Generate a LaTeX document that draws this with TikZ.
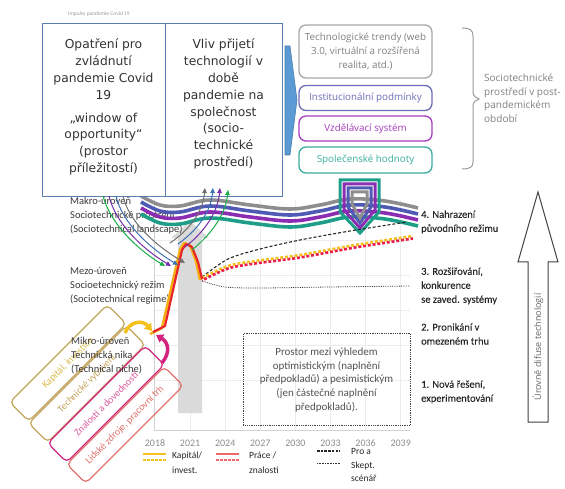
\documentclass[tikz,border=0pt]{standalone}
\usepackage{fontspec}
\setmainfont{Carlito}
\newfontfamily\verdfont{DejaVu Sans}
\newfontfamily\opensans{Open Sans}
\usetikzlibrary{arrows.meta}

\definecolor{frameblue}{HTML}{5A7FAE}
\definecolor{bandgray}{HTML}{8E8E8E}
\definecolor{bandblue}{HTML}{4E5AB4}
\definecolor{bandpurple}{HTML}{8A2DB3}
\definecolor{bandteal}{HTML}{1E9E88}
\definecolor{trendgray}{HTML}{A8A8A8}
\definecolor{instblue}{HTML}{6C6CB8}
\definecolor{eduviolet}{HTML}{A43CBD}
\definecolor{valteal}{HTML}{3AAE9C}
\definecolor{arrgreen}{HTML}{19AF48}
\definecolor{arrpurple}{HTML}{7430A8}
\definecolor{arrblue}{HTML}{3C72B2}
\definecolor{arrgray}{HTML}{707070}
\definecolor{capgold}{HTML}{F3C01C}
\definecolor{labred}{HTML}{E5252A}
\definecolor{nichegold}{HTML}{C4A35A}
\definecolor{nichetext}{HTML}{D9B84A}
\definecolor{nichemag}{HTML}{D2237F}
\definecolor{nichesalmon}{HTML}{E2706A}
\definecolor{lvltext}{HTML}{3A3A3A}
\definecolor{gridgray}{HTML}{ECECEC}
\definecolor{barshade}{HTML}{DADADA}
\definecolor{chevblue}{HTML}{5B9BD5}

\tikzset{
  topbox/.style={draw=frameblue, line width=1.3pt, fill=white, anchor=north west, minimum width=123pt, minimum height=173pt},
  toptext/.style={align=center, text=black!80, font=\verdfont\fontsize{12.3}{16.8}\selectfont},
  trendbox/.style={rounded corners=7pt, line width=1.3pt, fill=white, minimum width=133pt, align=center, inner sep=1pt, font=\opensans\fontsize{9.8}{14}\selectfont},
  lvl/.style={anchor=west, align=left, inner sep=0pt, text=lvltext, font=\fontsize{10.5}{14}\selectfont},
  stage/.style={anchor=west, align=left, inner sep=0pt, text=black!85, font=\addfontfeature{FakeBold=0.12}\fontsize{10.5}{14}\selectfont},
  nichebox/.style={rotate=45, rounded corners=5pt, line width=1.2pt, minimum width=138pt, minimum height=27pt, inner sep=0pt, font=\fontsize{10}{12}\selectfont},
  yearlbl/.style={text=black!45, font=\fontsize{10}{12}\selectfont, inner sep=0pt},
  legtext/.style={anchor=west, align=left, inner sep=0pt, text=black!85, font=\fontsize{9.5}{15}\selectfont},
  fatarrow/.style={-{Triangle[length=7pt,width=9pt]}, line width=3.5pt},
}

\begin{document}
\begin{tikzpicture}[x=1pt,y=-1pt,>={Triangle[length=5pt,width=4.5pt]}]
\useasboundingbox (0,0) rectangle (565,489);

% mrizka grafu
\foreach \xx in {190,225,260,295,330,365,400}
  \draw[gridgray] (\xx,200) -- (\xx,430);
\foreach \yy in {240,275,310,345,380}
  \draw[gridgray] (154,\yy) -- (410,\yy);
\draw[black!18] (154,200) -- (154,430) -- (410,430);

% obdobi pandemie
\fill[barshade] (178,413) -- (178,238) -- (171,238) -- (190,221) -- (209,238) -- (202,238) -- (202,413) -- cycle;

% urovne
\node[lvl] (makro) at (70,216) {Makro-úroveň\\Sociotechnické prostředí\\(Sociotechnical landscape)};
\node[lvl] (mezo) at (70,286) {Mezo-úroveň\\Socioetechnický režim\\(Sociotechnical regime)};

% nika
\node[nichebox, draw=nichegold, text=nichetext] (kapital) at (68,363) {Kapitál, investice};
\node[nichebox, draw=nichegold, text=nichegold] (vybaveni) at (87,384) {Technické vybavení};
\node[nichebox, draw=nichemag, text=nichemag!75!white] (znalosti) at (106,404) {Znalosti a dovednosti};
\node[nichebox, draw=nichesalmon, text=nichesalmon] (zdroje) at (125,425) {Lidské zdroje, pracovní trh};
\node[lvl] (mikro) at (71,356) {Mikro-úroveň\\Technická nika\\(Technical niche)};

% vlny prostredi
\foreach \col/\dy in {bandgray/0,bandblue/6,bandpurple/12,bandteal/18}
  \draw[\col, line width=3.6pt, yshift=-\dy pt] plot[smooth, tension=0.6] coordinates
    {(141,196) (160,205) (180,206) (210,200) (250,205) (290,209) (320,205) (350,199) (385,201) (418,208)};
\draw[bandteal, line width=3pt] (340,180) -- (379,180) -- (379,212) -- (360,233) -- (340,212) -- cycle;
\draw[bandpurple, line width=3pt] (344,184) -- (375,184) -- (375,210) -- (360,228) -- (344,210) -- cycle;
\draw[bandblue, line width=3pt] (348,188) -- (371,188) -- (371,207) -- (360,223) -- (348,207) -- cycle;
\draw[bandgray, line width=3pt] (352,192) -- (367,192) -- (367,204) -- (360,218) -- (352,204) -- cycle;

% scenare
\draw[black!85, line width=1.1pt, dash pattern=on 3pt off 2pt] plot[smooth] coordinates
  {(202,277) (228,259) (260,249) (300,240) (350,231) (407,222)};
\draw[capgold, line width=2.6pt, dash pattern=on 3pt off 1.8pt] plot[smooth] coordinates
  {(202,278) (228,266) (255,261) (300,255) (355,245) (413,236)};
\draw[labred!85!magenta, line width=2.6pt, dash pattern=on 3pt off 1.8pt, dash phase=2.4pt] plot[smooth] coordinates
  {(202,280.5) (228,268.5) (255,263.5) (300,257.5) (355,247.5) (413,238.5)};
\draw[black!80, line width=0.8pt, dash pattern=on 0.8pt off 1pt] plot[smooth] coordinates
  {(202,281) (225,287) (260,288) (330,287) (410,286)};

% vyvoj
\draw[capgold!70!orange, line width=2.6pt, line join=round] (150,334) -- (162,328) -- (180,250) -- (184,243) -- (190,245) -- (196,261) -- (200,280);
\draw[labred, line width=2.2pt, line join=round] (153,332) -- (165,326) -- (182,250) -- (186,244) -- (192,247) -- (198,262) -- (202,279);

% horni boxy
\node[topbox] (opatreni) at (42,23) {};
\node[topbox, minimum width=117pt] (vliv) at (165,23) {};
\node[toptext] (opatrenitxt) at (103.5,107) {Opatření pro\\zvládnutí\\pandemie Covid\\19\\[6pt]„window of\\opportunity“\\(prostor\\příležitostí)};
\node[toptext] (vlivtxt) at (223.5,104) {Vliv přijetí\\technologií v\\době\\pandemie na\\společnost\\(socio-\\technické\\prostředí)};
\node[text=black!40, font=\fontsize{5.5}{6}\selectfont, anchor=west, inner sep=0pt] (impulsy) at (68,14) {Impulsy pandemie Covid 19};

\draw[chevblue!80!black, fill=chevblue, line width=0.6pt] (285,46) -- (290,46) -- (297,100) -- (290,155) -- (285,155) -- cycle;

% prostredi po pandemii
\node[trendbox, draw=trendgray, text=black!50, minimum height=53pt] (trendy) at (365.5,51.5) {Technologické trendy (web\\3.0, virtuální a rozšířená\\realita, atd.)};
\node[trendbox, draw=instblue, text=instblue, minimum height=25pt] (instituce) at (365.5,98) {Institucionální podmínky};
\node[trendbox, draw=eduviolet, text=eduviolet, minimum height=25pt] (vzdelani) at (365.5,128.5) {Vzdělávací systém};
\node[trendbox, draw=valteal, text=valteal, minimum height=26pt] (hodnoty) at (365.5,160) {Společenské hodnoty};

\draw[black!40, line width=1pt] (462,28) .. controls (470,28) and (473,30) .. (473,36) -- (473,92) .. controls (473,96) and (476,98) .. (479,99)
  .. controls (476,100) and (473,102) .. (473,106) -- (473,162) .. controls (473,167) and (470,169) .. (462,169);
\node[anchor=west, align=left, inner sep=0pt, text=black!50, font=\opensans\fontsize{10}{13.5}\selectfont] (postpan) at (484,98) {Sociotechnické\\prostředí v post-\\pandemickém\\období};

% impulsy dolu a nahoru
\coordinate (d1) at (103,196); \coordinate (d1e) at (165,266);
\coordinate (d2) at (109,196); \coordinate (d2e) at (171,266);
\coordinate (d3) at (116,196); \coordinate (d3e) at (178,265);
\coordinate (d4) at (123,196); \coordinate (d4e) at (185,263);
\draw[->, arrgreen, line width=1pt] (d1) .. controls (110,222) and (135,248) .. (d1e);
\draw[->, arrpurple, line width=1pt] (d2) .. controls (115,222) and (141,248) .. (d2e);
\draw[->, arrblue, line width=1pt] (d3) .. controls (122,222) and (148,247) .. (d3e);
\draw[->, arrgray, line width=1pt] (d4) .. controls (129,222) and (155,245) .. (d4e);
\coordinate (u1) at (170,243); \coordinate (u1e) at (205,188);
\coordinate (u2) at (178,244); \coordinate (u2e) at (213,188);
\coordinate (u3) at (185,247); \coordinate (u3e) at (220,188);
\coordinate (u4) at (192,250); \coordinate (u4e) at (228,190);
\draw[->, arrgray, line width=1pt] (u1) .. controls (192,228) and (203,210) .. (u1e);
\draw[->, arrblue, line width=1pt] (u2) .. controls (200,228) and (211,210) .. (u2e);
\draw[->, arrpurple, line width=1pt] (u3) .. controls (207,230) and (218,210) .. (u3e);
\draw[->, arrgreen, line width=1pt] (u4) .. controls (214,232) and (226,212) .. (u4e);

% vstupy z niky
\coordinate (kapend) at (125,333);
\coordinate (rezimstart) at (152,331);
\coordinate (znalend) at (162,363);
\coordinate (rezimstart2) at (156,335);
\draw[fatarrow, capgold] (kapend) .. controls (129,322) and (142,319) .. (rezimstart);
\draw[fatarrow, nichemag] (znalend) .. controls (171,352) and (168,342) .. (rezimstart2);

% faze
\node[stage] (faze4) at (421,222) {4. Nahrazení\\původního režimu};
\node[stage] (faze3) at (421,286) {3. Rozšiřování,\\konkurence\\se zaved. systémy};
\node[stage] (faze2) at (421,334) {2. Pronikání v\\omezeném trhu};
\node[stage] (faze1) at (421,392) {1. Nová řešení,\\experimentování};

% prostor mezi scenari
\node[draw=black!75, line width=0.8pt, dash pattern=on 0.8pt off 1pt, minimum width=167pt, minimum height=92pt, anchor=north west] (prostor) at (243,333) {};
\node[align=center, inner sep=0pt, text=black!68, font=\fontsize{11}{13.8}\selectfont] (prostortxt) at (326.5,380) {Prostor mezi výhledem\\optimistickým (naplnění\\předpokladů) a pesimistickým\\(jen částečné naplnění\\předpokladů).};

% sipka difuse
\draw[black!75, fill=white, line width=1pt] (528,422) -- (528,262) -- (518,262) -- (538,192) -- (558,262) -- (548,262) -- (548,422) -- cycle;
\node[rotate=90, inner sep=0pt, text=black!60, font=\opensans\fontsize{9}{10}\selectfont] (difuse) at (538,347) {Úrovně difuse technologií};

% roky
\foreach \yr [count=\i from 0] in {2018,2021,2024,2027,2030,2033,2036,2039}
  \node[yearlbl] (r\yr) at ({155+35.1*\i},443) {\yr};

% legenda
\draw[capgold, line width=1.5pt] (143,454) -- (166,454);
\draw[capgold, line width=1.2pt, dash pattern=on 2.5pt off 1.5pt] (143,460) -- (166,460);
\node[legtext] (legkap) at (172,463) {Kapitál/\\invest.};
\draw[labred!70!white, line width=1.5pt] (216,454) -- (239,454);
\draw[labred!70!white, line width=1.2pt, dash pattern=on 2.5pt off 1.5pt] (216,460) -- (239,460);
\node[legtext] (legprace) at (249,463) {Práce /\\znalosti};
\draw[black!85, line width=1.1pt, dash pattern=on 2.5pt off 1.2pt] (317,451) -- (340,451);
\draw[black!80, line width=0.8pt, dash pattern=on 0.8pt off 0.8pt] (317,463) -- (340,463);
\node[legtext, font=\fontsize{9.5}{13.3}\selectfont] (legscen) at (351,465) {Pro a\\Skept.\\scénář};
\end{tikzpicture}
\end{document}
